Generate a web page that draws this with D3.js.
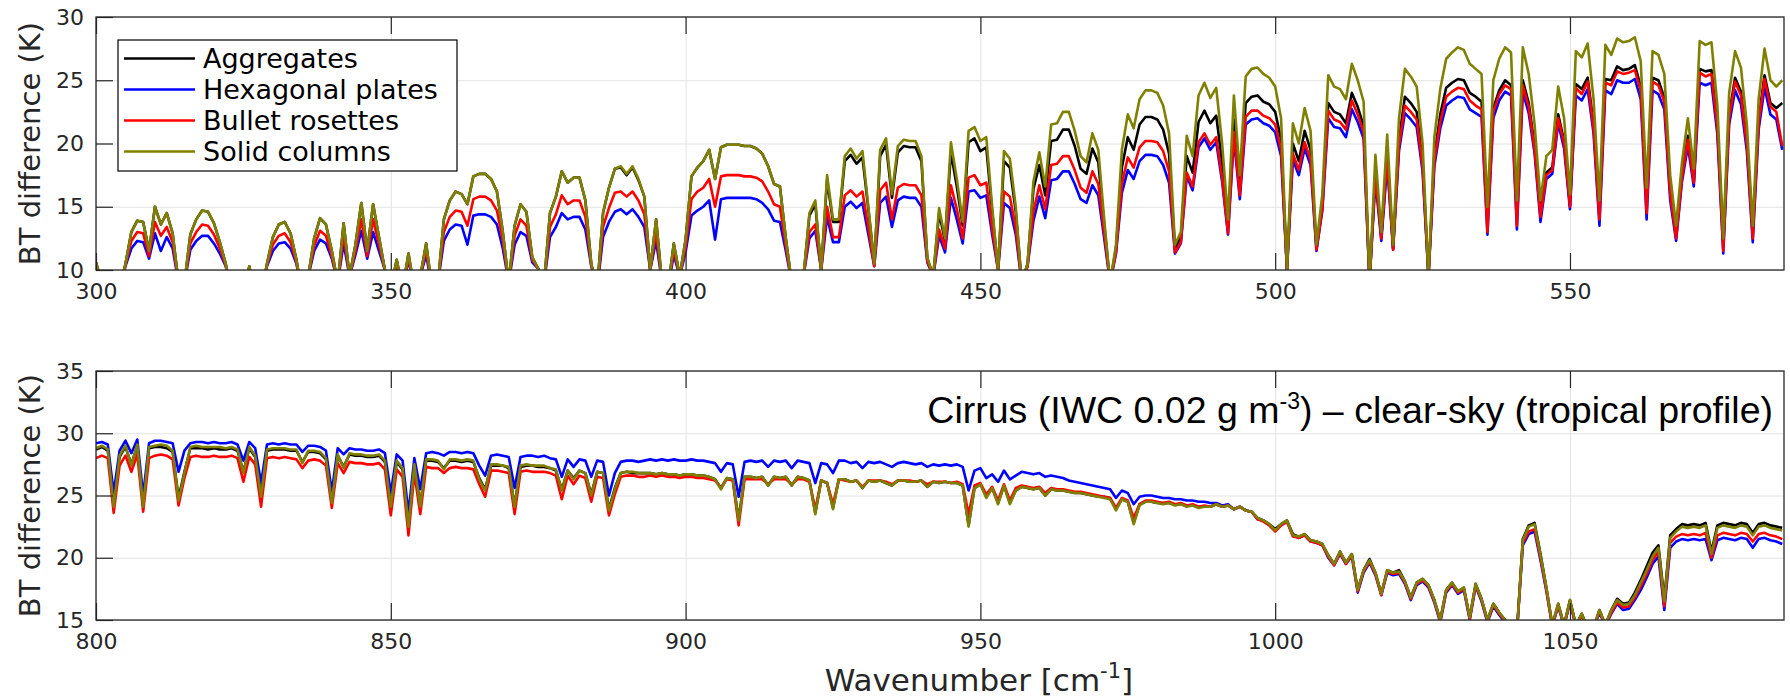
<!DOCTYPE html>
<html>
<head>
<meta charset="utf-8">
<script src="https://cdn.jsdelivr.net/npm/d3@7"></script>
<style>
  body { margin: 0; background: #fff; }
  svg { display: block; }
</style>
</head>
<body>
<script>
// sampled every 1 cm-1
var topStart = 300;
var bottomStart = 800;

var topAggregates = [
  10.6, 9.0, 8.0, 8.0, 8.5, 10.5, 13.0, 13.9, 13.8, 11.5,
  15.0, 13.6, 14.5, 12.9, 9.0, 9.0, 12.8, 14.0, 14.7, 14.6,
  13.7, 12.2, 10.5, 8.0, 8.0, 8.0, 10.3, 8.0, 8.0, 10.5,
  12.6, 13.6, 13.8, 12.9, 10.8, 8.0, 9.5, 12.5, 14.1, 13.6,
  11.5, 9.0, 13.7, 9.5, 12.0, 15.3, 11.5, 15.2, 12.6, 10.0,
  8.5, 10.8, 8.5, 11.3, 8.5, 9.5, 12.1, 8.5, 9.0, 14.0,
  15.5, 16.2, 16.0, 15.2, 17.4, 17.6, 17.6, 17.2, 16.2, 13.0,
  9.0, 13.5, 15.2, 14.6, 11.0, 10.1, 9.0, 14.5, 15.8, 17.8,
  16.9, 17.3, 17.3, 15.5, 10.5, 8.5, 14.5, 16.5, 18.0, 18.1,
  17.5, 18.1, 17.1, 15.8, 10.0, 14.0, 9.0, 8.5, 12.1, 9.5,
  12.4, 17.4, 18.1, 18.6, 19.5, 17.2, 19.7, 19.9, 19.9, 19.9,
  19.8, 19.8, 19.6, 19.2, 18.2, 16.8, 16.6, 12.5, 9.0, 8.0,
  9.5, 14.3, 15.2, 10.0, 17.1, 13.8, 13.8, 18.6, 19.1, 18.4,
  18.9, 14.8, 10.5, 19.0, 19.9, 15.7, 19.3, 19.8, 19.7, 19.7,
  18.6, 10.9, 9.5, 14.5, 12.3, 19.3, 16.6, 13.5, 20.1, 20.4,
  19.4, 19.7, 14.6, 10.0, 18.6, 18.1, 14.6, 9.0, 10.5, 16.4,
  18.3, 15.9, 20.2, 20.3, 21.1, 21.1, 19.8, 18.0, 17.6, 19.6,
  18.5, 13.6, 9.0, 11.7, 18.1, 20.5, 19.5, 21.5, 22.1, 22.1,
  21.9, 21.1, 19.2, 11.7, 12.6, 19.0, 17.7, 21.7, 22.6, 21.6,
  22.2, 18.5, 13.4, 21.9, 16.5, 23.2, 23.7, 23.8, 23.3, 23.1,
  22.5, 20.3, 10.0, 20.0, 18.6, 21.0, 19.5, 11.7, 15.2, 23.2,
  22.5, 22.3, 21.6, 24.0, 22.9, 21.4, 9.0, 17.8, 12.6, 19.2,
  11.7, 20.3, 23.7, 23.2, 22.5, 18.6, 9.5, 19.0, 22.3, 24.4,
  24.8, 25.1, 25.0, 24.0, 23.7, 23.3, 14.3, 22.8, 24.2, 25.0,
  24.6, 14.7, 25.0, 23.2, 19.8, 14.7, 17.7, 18.1, 22.3, 20.2,
  15.1, 24.7, 24.3, 25.2, 21.5, 14.7, 25.1, 25.0, 26.1, 25.8,
  25.9, 26.2, 24.5, 15.7, 25.2, 25.0, 23.6, 16.6, 13.1, 17.5,
  20.6, 17.0, 25.9, 25.7, 25.8, 21.4, 12.2, 22.3, 25.2, 24.1,
  20.1, 13.1, 21.9, 25.4, 23.2, 22.8, 23.2
];

var topHexPlates = [
  10.3, 9.0, 8.0, 8.0, 8.5, 10.3, 11.7, 12.3, 12.2, 10.9,
  12.9, 11.5, 12.6, 11.7, 9.0, 9.0, 11.6, 12.3, 12.7, 12.7,
  12.1, 11.3, 10.3, 8.0, 8.0, 8.0, 10.2, 8.0, 8.0, 10.3,
  11.5, 12.1, 12.2, 11.7, 10.5, 8.0, 9.5, 11.5, 12.4, 12.1,
  10.9, 9.0, 12.1, 9.5, 11.2, 13.1, 10.9, 13.0, 11.5, 10.0,
  8.5, 10.5, 8.5, 10.8, 8.5, 9.5, 11.2, 8.5, 9.0, 12.3,
  13.2, 13.6, 13.5, 12.0, 14.3, 14.4, 14.4, 14.2, 13.6, 11.7,
  9.0, 12.0, 13.0, 12.7, 10.6, 10.1, 9.0, 12.6, 13.4, 14.5,
  14.0, 14.2, 14.2, 13.2, 10.3, 8.5, 12.6, 13.8, 14.6, 14.8,
  14.4, 14.8, 14.2, 13.4, 10.0, 12.3, 9.0, 8.5, 11.2, 9.5,
  11.4, 14.3, 14.7, 15.0, 15.5, 12.4, 15.6, 15.7, 15.7, 15.7,
  15.7, 15.7, 15.6, 15.3, 14.8, 13.9, 13.8, 11.5, 9.0, 8.0,
  9.5, 12.5, 13.1, 10.0, 14.2, 12.2, 12.2, 15.0, 15.4, 14.9,
  15.3, 12.8, 10.3, 15.3, 15.8, 13.4, 15.5, 15.8, 15.7, 15.7,
  15.0, 10.6, 9.5, 12.7, 11.4, 15.7, 14.0, 12.1, 16.2, 16.3,
  15.7, 15.9, 12.8, 10.0, 15.3, 14.9, 12.8, 9.0, 10.3, 13.9,
  15.8, 14.1, 17.1, 17.2, 17.8, 17.8, 16.8, 15.6, 15.3, 16.7,
  15.9, 12.5, 9.0, 11.3, 16.1, 17.9, 17.2, 18.6, 19.1, 19.1,
  19.0, 18.3, 16.9, 11.3, 12.1, 17.4, 16.3, 19.7, 20.4, 19.5,
  20.1, 17.0, 12.8, 20.4, 15.6, 21.5, 21.9, 22.0, 21.6, 21.4,
  20.9, 19.0, 10.0, 18.7, 17.5, 19.6, 18.3, 11.5, 14.7, 22.0,
  21.3, 21.2, 20.5, 22.7, 21.7, 20.4, 9.0, 17.1, 12.3, 18.3,
  11.6, 19.4, 22.4, 21.9, 21.3, 17.8, 9.5, 18.2, 21.2, 23.0,
  23.4, 23.7, 23.6, 22.7, 22.4, 22.1, 12.8, 22.0, 23.4, 24.1,
  23.8, 13.2, 24.1, 22.4, 19.2, 13.8, 17.2, 17.6, 21.6, 19.6,
  14.8, 23.8, 23.4, 24.3, 20.8, 13.5, 24.2, 23.9, 25.0, 24.8,
  24.8, 25.1, 23.5, 14.0, 24.2, 23.9, 22.7, 15.5, 12.3, 17.0,
  19.8, 16.6, 24.8, 24.6, 24.8, 20.7, 11.3, 21.5, 24.2, 23.1,
  19.4, 12.2, 21.1, 24.4, 22.3, 21.9, 19.5
];

var topBulletRosettes = [
  10.5, 9.0, 8.0, 8.0, 8.5, 10.4, 12.3, 13.0, 12.9, 11.1,
  13.8, 12.7, 13.4, 12.2, 9.0, 9.0, 12.1, 13.0, 13.6, 13.5,
  12.8, 11.7, 10.4, 8.0, 8.0, 8.0, 10.2, 8.0, 8.0, 10.4,
  12.0, 12.7, 12.9, 12.2, 10.6, 8.0, 9.5, 11.9, 13.1, 12.7,
  11.1, 9.0, 12.8, 9.5, 11.5, 14.0, 11.1, 14.0, 12.0, 10.0,
  8.5, 10.6, 8.5, 11.0, 8.5, 9.5, 11.6, 8.5, 9.0, 13.0,
  14.2, 14.7, 14.6, 13.5, 15.6, 15.8, 15.8, 15.5, 14.7, 12.3,
  9.0, 12.7, 14.0, 13.5, 10.8, 10.1, 9.0, 13.4, 14.4, 15.9,
  15.2, 15.5, 15.5, 14.2, 10.4, 8.5, 13.4, 14.9, 16.1, 16.2,
  15.8, 16.2, 15.5, 14.4, 10.0, 13.0, 9.0, 8.5, 11.6, 9.5,
  11.8, 15.6, 16.2, 16.5, 17.2, 15.0, 17.4, 17.5, 17.5, 17.5,
  17.4, 17.4, 17.3, 17.0, 16.2, 15.2, 15.0, 11.9, 9.0, 8.0,
  9.5, 13.0, 13.6, 10.0, 15.0, 12.6, 12.6, 15.9, 16.3, 15.8,
  16.2, 13.3, 10.3, 16.3, 16.9, 14.0, 16.5, 16.8, 16.7, 16.7,
  15.9, 10.7, 9.5, 13.2, 11.7, 16.7, 14.8, 12.5, 17.3, 17.5,
  16.7, 16.9, 13.3, 10.0, 16.2, 15.8, 13.3, 9.0, 10.3, 14.6,
  16.7, 14.8, 18.3, 18.4, 19.0, 19.0, 17.9, 16.5, 16.1, 17.8,
  16.8, 12.9, 9.0, 11.4, 16.8, 18.9, 18.1, 19.7, 20.2, 20.2,
  20.1, 19.4, 17.8, 11.4, 12.2, 17.7, 16.6, 20.1, 20.8, 19.9,
  20.5, 17.3, 12.9, 20.9, 15.9, 22.1, 22.6, 22.6, 22.2, 22.0,
  21.5, 19.5, 10.0, 19.2, 17.9, 20.1, 18.7, 11.6, 14.9, 22.6,
  21.9, 21.7, 21.1, 23.4, 22.3, 20.9, 9.0, 17.5, 12.5, 18.8,
  11.6, 19.8, 23.0, 22.5, 21.9, 18.2, 9.5, 18.6, 21.7, 23.7,
  24.1, 24.4, 24.3, 23.4, 23.0, 22.7, 13.0, 22.5, 23.9, 24.6,
  24.3, 13.5, 24.6, 22.9, 19.5, 14.2, 17.5, 17.9, 22.0, 20.0,
  15.0, 24.4, 23.9, 24.9, 21.2, 14.0, 24.8, 24.6, 25.7, 25.5,
  25.6, 25.8, 24.2, 14.5, 24.9, 24.6, 23.3, 16.0, 12.5, 17.3,
  20.3, 16.9, 25.6, 25.3, 25.5, 21.2, 11.5, 22.0, 24.9, 23.8,
  19.9, 12.5, 21.6, 25.1, 22.9, 22.5, 19.8
];

var topSolidColumns = [
  10.6, 9.0, 8.0, 8.0, 8.5, 10.5, 13.0, 13.9, 13.8, 11.5,
  15.0, 13.6, 14.5, 12.9, 9.0, 9.0, 12.8, 14.0, 14.7, 14.6,
  13.7, 12.2, 10.5, 8.0, 8.0, 8.0, 10.3, 8.0, 8.0, 10.5,
  12.6, 13.6, 13.8, 12.9, 10.8, 8.0, 9.5, 12.5, 14.1, 13.6,
  11.5, 9.0, 13.7, 9.5, 12.0, 15.3, 11.5, 15.2, 12.6, 10.0,
  8.5, 10.8, 8.5, 11.3, 8.5, 9.5, 12.1, 8.5, 9.0, 14.0,
  15.5, 16.2, 16.0, 15.2, 17.4, 17.6, 17.6, 17.2, 16.2, 13.0,
  9.0, 13.5, 15.2, 14.6, 11.0, 10.1, 9.0, 14.5, 15.8, 17.8,
  16.9, 17.3, 17.3, 15.5, 10.5, 8.5, 14.5, 16.5, 18.0, 18.2,
  17.6, 18.2, 17.2, 15.8, 10.0, 14.0, 9.0, 8.5, 12.1, 9.5,
  12.4, 17.4, 18.1, 18.6, 19.5, 17.2, 19.7, 19.9, 19.9, 19.9,
  19.8, 19.8, 19.6, 19.2, 18.2, 16.8, 16.6, 12.5, 9.0, 8.0,
  9.5, 14.5, 15.5, 10.0, 17.5, 14.0, 14.0, 19.0, 19.6, 18.8,
  19.4, 15.0, 10.5, 19.5, 20.4, 16.0, 19.8, 20.3, 20.2, 20.2,
  19.0, 11.0, 9.5, 14.9, 12.5, 20.1, 17.2, 13.8, 21.0, 21.3,
  20.2, 20.5, 15.0, 10.0, 19.4, 18.8, 15.0, 9.0, 10.5, 17.0,
  19.3, 16.6, 21.5, 21.6, 22.5, 22.5, 21.0, 19.0, 18.5, 20.8,
  19.5, 14.0, 9.0, 12.0, 19.5, 22.3, 21.2, 23.5, 24.2, 24.2,
  24.0, 23.0, 20.8, 12.0, 13.0, 20.6, 19.0, 23.8, 24.8, 23.6,
  24.4, 20.0, 14.0, 23.8, 17.5, 25.3, 25.9, 26.0, 25.5, 25.2,
  24.5, 22.0, 10.0, 21.6, 20.0, 22.8, 21.0, 12.0, 16.0, 25.4,
  24.5, 24.3, 23.5, 26.3, 25.0, 23.3, 9.0, 19.1, 13.0, 20.7,
  12.0, 22.0, 25.9, 25.3, 24.5, 20.0, 9.5, 20.5, 24.3, 26.7,
  27.2, 27.6, 27.4, 26.3, 25.9, 25.5, 15.0, 25.0, 26.7, 27.6,
  27.2, 15.5, 27.6, 25.5, 21.5, 15.5, 19.0, 19.5, 24.5, 22.0,
  16.0, 27.3, 26.8, 27.9, 23.5, 15.5, 27.8, 27.0, 28.3, 28.0,
  28.1, 28.4, 26.5, 16.5, 27.3, 27.0, 25.5, 17.5, 13.5, 18.5,
  22.0, 18.0, 28.1, 27.8, 28.0, 23.0, 12.5, 24.0, 27.3, 26.0,
  21.5, 13.5, 23.5, 27.5, 25.0, 24.5, 25.0
];

var bottomAggregates = [
  28.7, 28.9, 28.6, 24.2, 28.1, 28.9, 27.5, 29.0, 24.2, 28.8,
  28.9, 28.9, 28.8, 28.5, 24.8, 26.9, 28.8, 28.8, 28.8, 28.7,
  28.8, 28.7, 28.7, 28.8, 28.6, 26.9, 28.8, 28.1, 25.0, 28.6,
  28.7, 28.7, 28.7, 28.6, 28.6, 27.7, 28.5, 28.5, 28.4, 27.9,
  24.5, 28.2, 27.3, 28.3, 28.2, 28.2, 28.1, 28.1, 28.2, 27.7,
  24.2, 27.7, 27.1, 22.6, 27.4, 24.2, 27.8, 27.8, 27.7, 27.2,
  27.8, 27.8, 27.7, 27.8, 27.7, 26.4, 25.5, 27.4, 27.4, 27.4,
  27.2, 24.2, 27.3, 27.4, 27.4, 27.3, 27.3, 27.2, 27.0, 25.5,
  27.0, 26.4, 27.0, 26.8, 25.1, 26.9, 26.8, 23.9, 25.6, 26.8,
  26.9, 26.8, 26.8, 26.8, 26.8, 26.7, 26.8, 26.7, 26.7, 26.6,
  26.7, 26.7, 26.6, 26.6, 26.5, 26.3, 25.6, 26.4, 26.3, 23.1,
  26.5, 26.5, 26.4, 26.5, 25.8, 26.5, 26.4, 26.5, 25.8, 26.5,
  26.4, 26.2, 23.6, 26.2, 26.0, 24.0, 26.3, 26.3, 26.1, 26.2,
  25.6, 26.2, 26.1, 26.2, 26.0, 25.8, 26.2, 26.2, 26.1, 26.1,
  26.2, 25.7, 26.1, 26.0, 26.1, 26.0, 26.0, 25.8, 22.6, 25.6,
  25.9, 24.9, 25.6, 24.4, 25.8, 24.4, 25.4, 25.7, 25.6, 25.5,
  25.6, 25.0, 25.5, 25.4, 25.4, 25.3, 25.2, 25.2, 25.1, 25.0,
  24.9, 24.9, 24.8, 23.9, 24.7, 24.5, 22.8, 24.3, 24.5, 24.5,
  24.4, 24.4, 24.4, 24.3, 24.3, 24.2, 24.2, 24.1, 24.1, 24.1,
  24.3, 24.1, 24.2, 23.9, 24.1, 23.8, 23.7, 23.2, 23.0, 22.7,
  22.3, 22.7, 23.0, 21.9, 21.7, 21.9, 21.4, 21.3, 21.1, 20.2,
  19.5, 20.5, 19.6, 20.3, 17.4, 19.0, 19.9, 18.8, 17.1, 19.0,
  18.8, 19.0, 18.1, 16.8, 18.0, 18.3, 17.8, 16.6, 15.0, 17.4,
  18.0, 17.3, 17.6, 15.2, 17.9, 16.7, 15.0, 16.3, 15.6, 15.0,
  14.2, 14.0, 21.5, 22.6, 22.8, 20.3, 17.6, 14.6, 16.3, 14.6,
  16.6, 14.6, 15.5, 14.3, 14.4, 15.8, 14.6, 15.8, 16.7, 16.3,
  16.4, 17.2, 18.2, 19.3, 20.4, 21.0, 16.7, 21.8, 22.3, 22.7,
  22.6, 22.7, 22.6, 22.8, 20.5, 22.6, 22.8, 22.7, 22.6, 22.8,
  22.7, 22.0, 22.7, 22.8, 22.6, 22.5, 22.4
];

var bottomHexPlates = [
  29.2, 29.3, 29.1, 25.2, 28.6, 29.4, 28.4, 29.5, 25.0, 29.2,
  29.4, 29.4, 29.3, 29.2, 26.9, 28.6, 29.2, 29.3, 29.3, 29.2,
  29.3, 29.2, 29.2, 29.3, 29.1, 27.8, 29.3, 28.8, 26.0, 29.1,
  29.2, 29.1, 29.2, 29.1, 29.1, 28.5, 29.0, 29.0, 28.9, 28.6,
  25.3, 28.8, 28.3, 28.8, 28.7, 28.7, 28.6, 28.6, 28.7, 28.4,
  25.2, 28.3, 27.8, 23.6, 28.0, 25.5, 28.4, 28.5, 28.4, 28.2,
  28.5, 28.5, 28.4, 28.5, 28.4, 27.4, 26.6, 28.2, 28.3, 28.2,
  28.1, 25.6, 28.1, 28.2, 28.2, 28.1, 28.2, 28.0, 27.9, 26.5,
  27.9, 27.3, 27.9, 27.8, 26.5, 27.8, 27.7, 25.0, 26.8, 27.7,
  27.8, 27.8, 27.7, 27.8, 27.9, 27.8, 27.9, 27.8, 27.9, 27.8,
  27.8, 27.9, 27.8, 27.8, 27.7, 27.6, 26.9, 27.6, 27.5, 24.9,
  27.7, 27.8, 27.7, 27.8, 27.3, 27.8, 27.7, 27.8, 27.2, 27.8,
  27.7, 27.6, 26.0, 27.6, 27.5, 26.8, 27.8, 27.8, 27.6, 27.7,
  27.2, 27.7, 27.6, 27.7, 27.5, 27.3, 27.6, 27.7, 27.6, 27.5,
  27.6, 27.3, 27.5, 27.4, 27.5, 27.4, 27.5, 27.3, 25.4, 27.0,
  27.2, 26.4, 26.7, 26.1, 27.0, 26.3, 26.6, 26.9, 26.8, 26.7,
  26.8, 26.5, 26.6, 26.5, 26.4, 26.2, 26.1, 26.0, 25.9, 25.8,
  25.7, 25.6, 25.5, 24.8, 25.4, 25.2, 24.3, 24.9, 25.0, 25.0,
  24.9, 24.8, 24.8, 24.7, 24.7, 24.6, 24.6, 24.5, 24.5, 24.4,
  24.4, 24.2, 24.3, 23.9, 24.1, 23.8, 23.7, 23.1, 23.0, 22.6,
  22.2, 22.6, 22.9, 21.8, 21.6, 21.8, 21.3, 21.2, 21.0, 20.0,
  19.4, 20.3, 19.5, 20.1, 17.2, 18.8, 19.6, 18.6, 17.0, 18.8,
  18.6, 18.7, 17.9, 16.6, 17.8, 18.1, 17.6, 16.4, 14.8, 17.2,
  17.8, 17.1, 17.4, 15.0, 17.7, 16.5, 14.8, 16.1, 15.4, 14.8,
  14.2, 14.0, 21.0, 21.9, 22.1, 19.8, 17.3, 14.5, 16.1, 14.5,
  16.4, 14.5, 15.4, 14.2, 14.3, 15.6, 14.5, 15.5, 16.3, 15.8,
  15.9, 16.6, 17.4, 18.4, 19.5, 20.1, 15.8, 20.8, 21.3, 21.5,
  21.4, 21.5, 21.4, 21.5, 19.8, 21.4, 21.6, 21.5, 21.4, 21.6,
  21.5, 20.8, 21.5, 21.6, 21.4, 21.3, 21.1
];

var bottomBulletRosettes = [
  28.0, 28.2, 28.0, 23.6, 27.4, 28.2, 26.9, 28.3, 23.7, 28.0,
  28.2, 28.3, 28.2, 27.9, 24.2, 26.4, 28.1, 28.2, 28.1, 28.1,
  28.2, 28.1, 28.1, 28.2, 28.0, 26.1, 28.1, 27.5, 24.1, 28.0,
  28.1, 28.0, 28.1, 28.0, 27.9, 27.2, 27.8, 27.9, 27.8, 27.4,
  24.0, 27.6, 26.8, 27.7, 27.6, 27.6, 27.5, 27.5, 27.6, 27.1,
  23.4, 27.1, 26.5, 21.8, 26.8, 23.5, 27.3, 27.2, 27.2, 26.8,
  27.2, 27.3, 27.2, 27.2, 27.1, 25.9, 24.9, 27.0, 27.0, 26.9,
  26.8, 23.5, 26.9, 27.0, 26.9, 26.9, 26.9, 26.8, 26.6, 24.7,
  26.6, 25.9, 26.6, 26.4, 24.5, 26.5, 26.4, 23.4, 25.1, 26.5,
  26.6, 26.6, 26.5, 26.5, 26.6, 26.5, 26.6, 26.5, 26.5, 26.4,
  26.5, 26.5, 26.4, 26.4, 26.3, 26.2, 25.6, 26.3, 26.2, 22.6,
  26.3, 26.3, 26.3, 26.3, 25.9, 26.3, 26.3, 26.3, 25.9, 26.3,
  26.3, 26.1, 23.9, 26.2, 26.0, 24.3, 26.3, 26.2, 26.1, 26.2,
  25.7, 26.2, 26.2, 26.2, 26.1, 25.9, 26.2, 26.2, 26.2, 26.1,
  26.2, 25.9, 26.1, 26.1, 26.1, 26.0, 26.1, 25.9, 23.5, 25.8,
  26.0, 25.1, 25.7, 24.6, 25.9, 24.6, 25.6, 25.8, 25.7, 25.6,
  25.7, 25.2, 25.6, 25.5, 25.5, 25.4, 25.3, 25.3, 25.2, 25.1,
  25.0, 24.9, 24.8, 24.0, 24.8, 24.6, 23.2, 24.3, 24.6, 24.6,
  24.5, 24.4, 24.5, 24.3, 24.4, 24.2, 24.3, 24.1, 24.2, 24.1,
  24.3, 24.1, 24.2, 23.9, 24.1, 23.8, 23.7, 23.1, 22.9, 22.6,
  22.1, 22.6, 22.9, 21.7, 21.6, 21.8, 21.3, 21.2, 21.0, 20.1,
  19.4, 20.4, 19.5, 20.2, 17.3, 18.9, 19.7, 18.7, 17.0, 18.9,
  18.7, 18.8, 18.0, 16.7, 17.9, 18.2, 17.7, 16.5, 14.9, 17.3,
  17.9, 17.2, 17.5, 15.1, 17.8, 16.6, 14.9, 16.2, 15.5, 14.9,
  14.2, 14.0, 21.2, 22.1, 22.3, 20.0, 17.4, 14.5, 16.2, 14.5,
  16.5, 14.5, 15.4, 14.2, 14.3, 15.7, 14.5, 15.6, 16.4, 16.0,
  16.1, 16.8, 17.7, 18.7, 19.8, 20.5, 16.1, 21.2, 21.7, 21.9,
  21.8, 21.9, 21.8, 22.0, 20.0, 21.8, 22.0, 21.9, 21.8, 22.0,
  21.9, 21.3, 21.9, 22.0, 21.8, 21.7, 21.5
];

var bottomSolidColumns = [
  28.8, 29.0, 28.7, 24.1, 28.2, 29.0, 27.4, 29.1, 24.1, 28.9,
  29.0, 29.1, 29.0, 28.6, 24.6, 26.8, 28.9, 29.0, 28.9, 28.9,
  28.9, 28.9, 28.8, 28.9, 28.7, 26.8, 28.9, 28.2, 24.9, 28.7,
  28.8, 28.8, 28.8, 28.7, 28.7, 27.6, 28.6, 28.6, 28.5, 28.0,
  24.4, 28.3, 27.2, 28.4, 28.3, 28.3, 28.2, 28.2, 28.3, 27.8,
  24.1, 27.8, 27.2, 22.5, 27.5, 24.1, 27.9, 27.9, 27.8, 27.1,
  27.9, 27.9, 27.8, 27.9, 27.8, 26.3, 25.4, 27.5, 27.5, 27.4,
  27.3, 24.1, 27.4, 27.5, 27.4, 27.4, 27.4, 27.2, 27.1, 25.4,
  27.0, 26.3, 27.0, 26.8, 25.0, 26.9, 26.8, 23.8, 25.5, 26.8,
  26.9, 26.9, 26.8, 26.8, 26.8, 26.7, 26.8, 26.7, 26.7, 26.6,
  26.7, 26.7, 26.6, 26.6, 26.5, 26.3, 25.5, 26.4, 26.3, 23.0,
  26.5, 26.5, 26.4, 26.5, 25.8, 26.5, 26.4, 26.5, 25.8, 26.5,
  26.4, 26.2, 23.5, 26.2, 26.0, 23.9, 26.3, 26.3, 26.1, 26.2,
  25.6, 26.2, 26.1, 26.2, 26.0, 25.8, 26.2, 26.2, 26.1, 26.1,
  26.2, 25.7, 26.1, 26.0, 26.1, 26.0, 26.0, 25.8, 22.5, 25.6,
  25.9, 24.8, 25.6, 24.3, 25.8, 24.3, 25.4, 25.7, 25.6, 25.5,
  25.6, 25.0, 25.5, 25.4, 25.4, 25.3, 25.2, 25.2, 25.1, 25.0,
  24.9, 24.8, 24.7, 23.8, 24.7, 24.5, 22.7, 24.2, 24.5, 24.5,
  24.4, 24.3, 24.4, 24.2, 24.3, 24.1, 24.2, 24.0, 24.1, 24.1,
  24.3, 24.1, 24.2, 23.9, 24.1, 23.8, 23.7, 23.2, 23.0, 22.7,
  22.2, 22.7, 23.0, 21.8, 21.7, 21.9, 21.4, 21.3, 21.1, 20.2,
  19.5, 20.5, 19.6, 20.3, 17.4, 19.0, 19.8, 18.8, 17.1, 19.0,
  18.8, 18.9, 18.1, 16.8, 18.0, 18.3, 17.8, 16.6, 15.0, 17.4,
  18.0, 17.3, 17.6, 15.2, 17.9, 16.7, 15.0, 16.3, 15.6, 15.0,
  14.2, 14.0, 21.4, 22.5, 22.7, 20.2, 17.6, 14.6, 16.3, 14.6,
  16.6, 14.6, 15.5, 14.3, 14.4, 15.8, 14.6, 15.8, 16.6, 16.2,
  16.3, 17.0, 18.0, 19.0, 20.1, 20.8, 16.5, 21.6, 22.1, 22.5,
  22.4, 22.5, 22.4, 22.6, 20.3, 22.4, 22.6, 22.5, 22.4, 22.6,
  22.5, 21.8, 22.5, 22.6, 22.4, 22.3, 22.2
];

var legendNames = ["Aggregates", "Hexagonal plates", "Bullet rosettes", "Solid columns"];
var legendColors = ["#000000", "#0000ff", "#ff0000", "#808000"];

var topXTicks = [300, 350, 400, 450, 500, 550];
var topYTicks = [10, 15, 20, 25, 30];
var bottomXTicks = [800, 850, 900, 950, 1000, 1050];
var bottomYTicks = [15, 20, 25, 30, 35];

var width = 1790;
var height = 697;
var axisColor = "#262626";

var svg = d3.select("body").append("svg")
  .attr("width", width)
  .attr("height", height);

function drawPanel(cfg) {
  var x = d3.scaleLinear().domain(cfg.xDomain).range([96, 1784]);
  var y = d3.scaleLinear().domain(cfg.yDomain).range([cfg.bottom, cfg.top]);
  var g = svg.append("g");
  var ph = cfg.bottom - cfg.top;

  // grid
  g.append("g")
    .attr("transform", "translate(0," + cfg.bottom + ")")
    .call(d3.axisBottom(x).tickValues(cfg.xTicks).tickSize(-ph).tickFormat(""))
    .call(function(s) { s.select(".domain").remove(); s.selectAll("line").attr("stroke", "#e2e2e2"); });
  g.append("g")
    .attr("transform", "translate(96,0)")
    .call(d3.axisLeft(y).tickValues(cfg.yTicks).tickSize(-1688).tickFormat(""))
    .call(function(s) { s.select(".domain").remove(); s.selectAll("line").attr("stroke", "#e2e2e2"); });

  var clipId = "clip" + cfg.id;
  svg.append("clipPath").attr("id", clipId)
    .append("rect").attr("x", 96).attr("y", cfg.top).attr("width", 1688).attr("height", ph);

  var line = d3.line()
    .x(function(d, i) { return x(cfg.start + i); })
    .y(function(d) { return y(d); });

  var lines = g.append("g").attr("clip-path", "url(#" + clipId + ")");
  cfg.series.forEach(function(s) {
    lines.append("path")
      .attr("d", line(s.values))
      .attr("fill", "none")
      .attr("stroke", s.color)
      .attr("stroke-width", 2.6)
      .attr("stroke-linejoin", "round");
  });

  // axes with inward ticks
  var xb = g.append("g")
    .attr("transform", "translate(0," + cfg.bottom + ")")
    .call(d3.axisBottom(x).tickValues(cfg.xTicks).tickSize(-17).tickPadding(13).tickFormat(d3.format("d")));
  var xt = g.append("g")
    .attr("transform", "translate(0," + cfg.top + ")")
    .call(d3.axisTop(x).tickValues(cfg.xTicks).tickSize(-17).tickFormat(""));
  var yl = g.append("g")
    .attr("transform", "translate(96,0)")
    .call(d3.axisLeft(y).tickValues(cfg.yTicks).tickSize(-17).tickPadding(12).tickFormat(d3.format("d")));
  [xb, xt, yl].forEach(function(a) {
    a.select(".domain").remove();
    a.selectAll("line").attr("stroke", axisColor).attr("stroke-width", 1.2);
    a.selectAll("text")
      .attr("fill", axisColor)
      .style("font-family", "DejaVu Sans")
      .style("font-size", "22px");
  });

  g.append("rect")
    .attr("x", 96).attr("y", cfg.top)
    .attr("width", 1688).attr("height", ph)
    .attr("fill", "none")
    .attr("stroke", axisColor)
    .attr("stroke-width", 1.3);

  g.append("text")
    .attr("transform", "translate(30," + (cfg.top + ph / 2) + ") rotate(-90)")
    .attr("text-anchor", "middle")
    .attr("dominant-baseline", "central")
    .attr("fill", axisColor)
    .style("font-family", "DejaVu Sans")
    .style("font-size", "29px")
    .text("BT difference (K)");
}

drawPanel({
  id: "top", top: 17, bottom: 270,
  xDomain: [300, 586.3], yDomain: [10, 30],
  xTicks: topXTicks, yTicks: topYTicks, start: topStart,
  series: [
    { color: legendColors[0], values: topAggregates },
    { color: legendColors[1], values: topHexPlates },
    { color: legendColors[2], values: topBulletRosettes },
    { color: legendColors[3], values: topSolidColumns }
  ]
});

drawPanel({
  id: "bottom", top: 371, bottom: 620,
  xDomain: [800, 1086.3], yDomain: [15, 35],
  xTicks: bottomXTicks, yTicks: bottomYTicks, start: bottomStart,
  series: [
    { color: legendColors[0], values: bottomAggregates },
    { color: legendColors[1], values: bottomHexPlates },
    { color: legendColors[2], values: bottomBulletRosettes },
    { color: legendColors[3], values: bottomSolidColumns }
  ]
});

/* legend */
var legend = svg.append("g");
legend.append("rect")
  .attr("x", 118).attr("y", 40).attr("width", 339).attr("height", 131)
  .attr("fill", "#fff").attr("stroke", "#000").attr("stroke-width", 1.2);
legendNames.forEach(function(name, i) {
  var ly = 58.5 + i * 31;
  legend.append("line")
    .attr("x1", 124).attr("x2", 195).attr("y1", ly).attr("y2", ly)
    .attr("stroke", legendColors[i]).attr("stroke-width", 2.6);
  legend.append("text")
    .attr("x", 203).attr("y", ly)
    .attr("dominant-baseline", "central")
    .style("font-family", "DejaVu Sans")
    .style("font-size", "27px")
    .attr("fill", "#000")
    .text(name);
});

/* x label */
var xl = svg.append("text")
  .attr("x", 979).attr("y", 691)
  .attr("text-anchor", "middle")
  .attr("fill", axisColor)
  .style("font-family", "DejaVu Sans")
  .style("font-size", "31px");
xl.append("tspan").text("Wavenumber [cm");
xl.append("tspan").attr("dy", -13).style("font-size", "21px").text("-1");
xl.append("tspan").attr("dy", 13).text("]");

/* annotation */
var ann = svg.append("text")
  .attr("x", 1773).attr("y", 423)
  .attr("text-anchor", "end")
  .attr("fill", "#000")
  .style("font-family", "Liberation Sans, Arial, sans-serif")
  .style("font-size", "37.5px");
ann.append("tspan").text("Cirrus (IWC 0.02 g m");
ann.append("tspan").attr("dy", -14).style("font-size", "23px").text("-3");
ann.append("tspan").attr("dy", 14).text(") \u2013 clear-sky (tropical profile)");
</script>
</body>
</html>
